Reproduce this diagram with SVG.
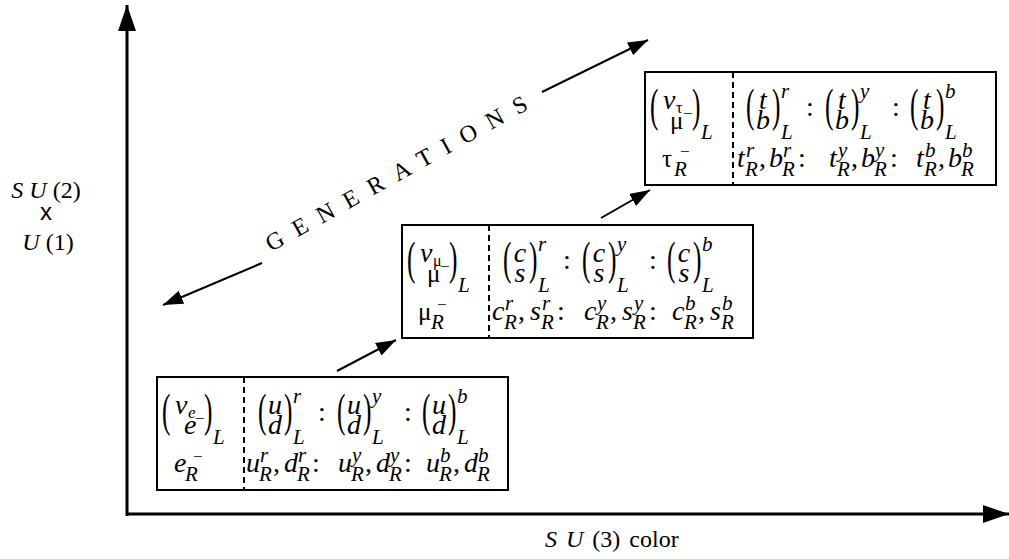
<svg xmlns="http://www.w3.org/2000/svg" width="1009" height="559" viewBox="0 0 1009 559">
<style>
text { font-family: "Liberation Serif", "Times New Roman", serif; fill: #000; }
.m { font-style: italic; font-size: 28px; }
.u { font-style: normal; font-size: 28px; }
.g { font-style: normal; font-size: 25px; }
.s { font-style: italic; font-size: 21px; }
.su { font-style: normal; font-size: 17px; }
.ss { font-style: italic; font-size: 17px; }
.ssu { font-style: normal; font-size: 16px; }
.p { font-style: normal; font-size: 46px; }
.mid { text-anchor: middle; }
.box { fill: #fff; stroke: #000; stroke-width: 2; }
.dash { stroke: #000; stroke-width: 2; stroke-dasharray: 6 4; }
.axis { stroke: #000; stroke-width: 3; fill: none; }
.conn { stroke: #000; stroke-width: 2; fill: none; }
.lbl { font-size: 24px; }
.sans { font-family: "Liberation Sans", Arial, sans-serif; font-size: 24px; }
</style>
<defs>
<marker id="bigHead" markerUnits="userSpaceOnUse" markerWidth="26" markerHeight="18" viewBox="0 0 26 18" refX="26" refY="9" orient="auto"><path d="M0,0 L26,9 L0,18 z" fill="#000"/></marker>
<marker id="head" markerUnits="userSpaceOnUse" markerWidth="20" markerHeight="14" viewBox="0 0 20 14" refX="20" refY="7" orient="auto"><path d="M0,0 L20,7 L0,14 z" fill="#000"/></marker>
</defs>
<rect width="1009" height="559" fill="#fff"/>

<g id="connectors">
<line class="axis" x1="127" y1="516" x2="127" y2="5" marker-end="url(#bigHead)"/>
<line class="axis" x1="126" y1="514" x2="1009" y2="514" marker-end="url(#bigHead)"/>
<line class="conn" x1="262" y1="263" x2="163" y2="305" marker-end="url(#head)"/>
<line class="conn" x1="542" y1="92" x2="648" y2="40" marker-end="url(#head)"/>
<line class="conn" x1="337" y1="371" x2="396" y2="340" marker-end="url(#head)"/>
<line class="conn" x1="601" y1="218" x2="650" y2="190" marker-end="url(#head)"/>
</g>

<g id="axis-labels">
<text class="lbl" x="46" y="198" text-anchor="middle"><tspan font-style="italic">S U</tspan> (2)</text>
<text class="sans" x="46" y="220" text-anchor="middle">x</text>
<text class="lbl" x="48" y="250" text-anchor="middle"><tspan font-style="italic">U</tspan> (1)</text>
<text class="lbl" x="545" y="547" word-spacing="3"><tspan font-style="italic">S U</tspan> (3) color</text>
</g>

<g id="generations">
<text class="lbl" x="271" y="252" transform="rotate(-29 271 252)" letter-spacing="13" font-size="28">GENERATIONS</text>
</g>

<g id="gen1" transform="translate(157,377)">
<rect class="box" x="0" y="0" width="351" height="113"/>
<line class="dash" x1="87" y1="0" x2="87" y2="113"/>
<text class="p" transform="translate(5,49) scale(0.55,1)">(</text>
<text class="m" x="18" y="37">ν</text>
<text class="ss" x="31" y="41">e</text>
<text class="m" x="27" y="57">e</text>
<text class="su" x="38" y="47">−</text>
<text class="p" transform="translate(47,49) scale(0.55,1)">)</text>
<text class="s" x="56" y="67">L</text>
<text class="m" x="17" y="95">e</text>
<text class="s" x="28" y="104">R</text>
<text class="su" x="36" y="85">−</text>
<text class="p" transform="translate(101,49) scale(0.55,1)">(</text>
<text class="m mid" x="118" y="37">u</text><text class="m mid" x="118" y="57">d</text>
<text class="p" transform="translate(127,49) scale(0.55,1)">)</text>
<text class="s" x="136" y="26">r</text><text class="s" x="136" y="67">L</text>
<text class="u" x="161" y="44">:</text>
<text class="p" transform="translate(180,49) scale(0.55,1)">(</text>
<text class="m mid" x="197" y="37">u</text><text class="m mid" x="197" y="57">d</text>
<text class="p" transform="translate(206,49) scale(0.55,1)">)</text>
<text class="s" x="215" y="26">y</text><text class="s" x="215" y="67">L</text>
<text class="u" x="247" y="44">:</text>
<text class="p" transform="translate(265,49) scale(0.55,1)">(</text>
<text class="m mid" x="282" y="37">u</text><text class="m mid" x="282" y="57">d</text>
<text class="p" transform="translate(291,49) scale(0.55,1)">)</text>
<text class="s" x="300" y="26">b</text><text class="s" x="300" y="67">L</text>
<text class="m" x="89" y="95">u</text><text class="s" x="102" y="104">R</text><text class="s" x="103" y="85">r</text>
<text class="u" x="116" y="95">,</text>
<text class="m" x="127" y="95">d</text><text class="s" x="140" y="104">R</text><text class="s" x="141" y="85">r</text>
<text class="u" x="155" y="95">:</text>
<text class="m" x="181" y="95">u</text><text class="s" x="194" y="104">R</text><text class="s" x="195" y="85">y</text>
<text class="u" x="208" y="95">,</text>
<text class="m" x="219" y="95">d</text><text class="s" x="232" y="104">R</text><text class="s" x="233" y="85">y</text>
<text class="u" x="247" y="95">:</text>
<text class="m" x="269" y="95">u</text><text class="s" x="282" y="104">R</text><text class="s" x="283" y="85">b</text>
<text class="u" x="296" y="95">,</text>
<text class="m" x="307" y="95">d</text><text class="s" x="320" y="104">R</text><text class="s" x="321" y="85">b</text>
</g>

<g id="gen2" transform="translate(402,225)">
<rect class="box" x="0" y="0" width="351" height="113"/>
<line class="dash" x1="87" y1="0" x2="87" y2="113"/>
<text class="p" transform="translate(5,49) scale(0.55,1)">(</text>
<text class="m" x="18" y="37">ν</text>
<text class="ssu" x="31" y="41">μ</text>
<text class="g" x="25" y="57">μ</text>
<text class="su" x="38" y="47">−</text>
<text class="p" transform="translate(47,49) scale(0.55,1)">)</text>
<text class="s" x="56" y="67">L</text>
<text class="g" x="16" y="95">μ</text>
<text class="s" x="29" y="104">R</text>
<text class="su" x="35" y="85">−</text>
<text class="p" transform="translate(101,49) scale(0.55,1)">(</text>
<text class="m mid" x="118" y="37">c</text><text class="m mid" x="118" y="57">s</text>
<text class="p" transform="translate(127,49) scale(0.55,1)">)</text>
<text class="s" x="136" y="26">r</text><text class="s" x="136" y="67">L</text>
<text class="u" x="161" y="44">:</text>
<text class="p" transform="translate(180,49) scale(0.55,1)">(</text>
<text class="m mid" x="197" y="37">c</text><text class="m mid" x="197" y="57">s</text>
<text class="p" transform="translate(206,49) scale(0.55,1)">)</text>
<text class="s" x="215" y="26">y</text><text class="s" x="215" y="67">L</text>
<text class="u" x="247" y="44">:</text>
<text class="p" transform="translate(265,49) scale(0.55,1)">(</text>
<text class="m mid" x="282" y="37">c</text><text class="m mid" x="282" y="57">s</text>
<text class="p" transform="translate(291,49) scale(0.55,1)">)</text>
<text class="s" x="300" y="26">b</text><text class="s" x="300" y="67">L</text>
<text class="m" x="90" y="95">c</text><text class="s" x="102" y="104">R</text><text class="s" x="103" y="85">r</text>
<text class="u" x="116" y="95">,</text>
<text class="m" x="128" y="95">s</text><text class="s" x="139" y="104">R</text><text class="s" x="140" y="85">r</text>
<text class="u" x="155" y="95">:</text>
<text class="m" x="182" y="95">c</text><text class="s" x="194" y="104">R</text><text class="s" x="195" y="85">y</text>
<text class="u" x="208" y="95">,</text>
<text class="m" x="220" y="95">s</text><text class="s" x="231" y="104">R</text><text class="s" x="232" y="85">y</text>
<text class="u" x="247" y="95">:</text>
<text class="m" x="270" y="95">c</text><text class="s" x="282" y="104">R</text><text class="s" x="283" y="85">b</text>
<text class="u" x="296" y="95">,</text>
<text class="m" x="308" y="95">s</text><text class="s" x="319" y="104">R</text><text class="s" x="320" y="85">b</text>
</g>

<g id="gen3" transform="translate(645,72)">
<rect class="box" x="0" y="0" width="351" height="113"/>
<line class="dash" x1="88" y1="0" x2="88" y2="113"/>
<text class="p" transform="translate(5,49) scale(0.55,1)">(</text>
<text class="m" x="18" y="37">ν</text>
<text class="ssu" x="31" y="41">τ</text>
<text class="g" x="25" y="57">μ</text>
<text class="su" x="38" y="47">−</text>
<text class="p" transform="translate(47,49) scale(0.55,1)">)</text>
<text class="s" x="56" y="67">L</text>
<text class="g" x="17" y="95">τ</text>
<text class="s" x="29" y="104">R</text>
<text class="su" x="35" y="85">−</text>
<text class="p" transform="translate(101,49) scale(0.55,1)">(</text>
<text class="m mid" x="118" y="37">t</text><text class="m mid" x="118" y="57">b</text>
<text class="p" transform="translate(127,49) scale(0.55,1)">)</text>
<text class="s" x="136" y="26">r</text><text class="s" x="136" y="67">L</text>
<text class="u" x="161" y="44">:</text>
<text class="p" transform="translate(180,49) scale(0.55,1)">(</text>
<text class="m mid" x="197" y="37">t</text><text class="m mid" x="197" y="57">b</text>
<text class="p" transform="translate(206,49) scale(0.55,1)">)</text>
<text class="s" x="215" y="26">y</text><text class="s" x="215" y="67">L</text>
<text class="u" x="247" y="44">:</text>
<text class="p" transform="translate(265,49) scale(0.55,1)">(</text>
<text class="m mid" x="282" y="37">t</text><text class="m mid" x="282" y="57">b</text>
<text class="p" transform="translate(291,49) scale(0.55,1)">)</text>
<text class="s" x="300" y="26">b</text><text class="s" x="300" y="67">L</text>
<text class="m" x="92" y="95">t</text><text class="s" x="100" y="104">R</text><text class="s" x="101" y="85">r</text>
<text class="u" x="114" y="95">,</text>
<text class="m" x="124" y="95">b</text><text class="s" x="137" y="104">R</text><text class="s" x="138" y="85">r</text>
<text class="u" x="153" y="95">:</text>
<text class="m" x="184" y="95">t</text><text class="s" x="192" y="104">R</text><text class="s" x="193" y="85">y</text>
<text class="u" x="206" y="95">,</text>
<text class="m" x="216" y="95">b</text><text class="s" x="229" y="104">R</text><text class="s" x="230" y="85">y</text>
<text class="u" x="245" y="95">:</text>
<text class="m" x="271" y="95">t</text><text class="s" x="279" y="104">R</text><text class="s" x="280" y="85">b</text>
<text class="u" x="293" y="95">,</text>
<text class="m" x="303" y="95">b</text><text class="s" x="316" y="104">R</text><text class="s" x="317" y="85">b</text>
</g>
</svg>
